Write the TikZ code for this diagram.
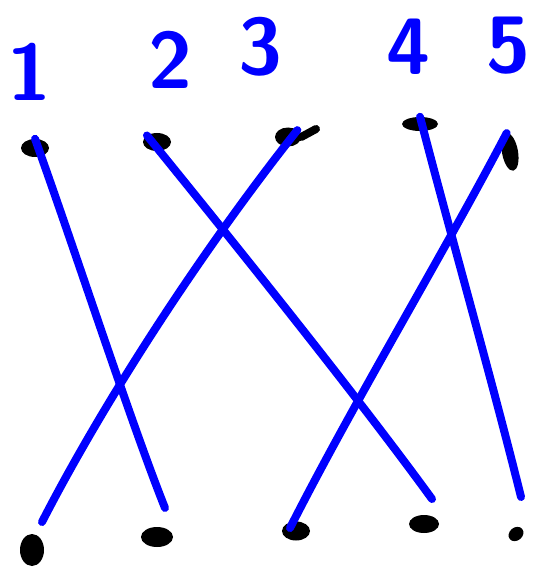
\documentclass[tikz,border=0pt]{standalone}
\usetikzlibrary{shapes.geometric}
\definecolor{pen}{RGB}{0,0,255}
\tikzset{
  dot/.style={ellipse, fill=black, inner sep=0pt},
  wire/.style={draw=pen, line width=8pt, line cap=round, line join=round},
  lbl/.style={text=pen, font=\sffamily\bfseries\fontsize{80}{80}\selectfont, inner sep=0pt}
}
\begin{document}
\begin{tikzpicture}[x=1pt,y=-1pt]
\useasboundingbox (0,0) rectangle (555,572);
% labels
\node[lbl] (l1) at (30,72) {1};
\node[lbl] (l2) at (170,60) {2};
\node[lbl] (l3) at (260,47) {3};
\node[lbl] (l4) at (408,47) {4};
\node[lbl] (l5) at (508,46) {5};
% top dots
\node[dot, minimum width=28pt, minimum height=18pt] (t1) at (35,148) {};
\node[dot, minimum width=28pt, minimum height=18pt] (t2) at (157,142) {};
\node[dot, minimum width=26pt, minimum height=19pt] (t3) at (288,137) {};
\draw[line width=8pt, line cap=round] (t3.east) -- (316,129);
\node[dot, minimum width=36pt, minimum height=14pt] (t4) at (420,124) {};
\node[dot, minimum width=16pt, minimum height=38pt, rotate=10] (t5) at (510,152) {};
% bottom dots
\node[dot, minimum width=24pt, minimum height=32pt] (b1) at (32,550) {};
\node[dot, minimum width=32pt, minimum height=20pt] (b2) at (157,537) {};
\node[dot, minimum width=28pt, minimum height=19pt] (b3) at (296,531) {};
\node[dot, minimum width=30pt, minimum height=18pt] (b4) at (424,524) {};
\node[dot, minimum width=16pt, minimum height=13pt, rotate=40] (b5) at (516,534) {};
% line ends
\coordinate (e1) at (165,508);
\coordinate (e2) at (432,499);
\coordinate (e3) at (42,522);
\coordinate (e4) at (521,497);
\coordinate (e5) at (290,528);
% connectors
\draw[wire] (t1.north) .. controls (75,250) and (130,420) .. (e1);
\draw[wire] (t2.north west) .. controls (240,250) and (360,400) .. (e2);
\draw[wire] (t3.north east) .. controls (210,240) and (110,390) .. (e3);
\draw[wire] (t4.north) .. controls (452,240) and (492,380) .. (e4);
\draw[wire] (t5.north) .. controls (440,260) and (355,400) .. (e5);
\end{tikzpicture}
\end{document}
